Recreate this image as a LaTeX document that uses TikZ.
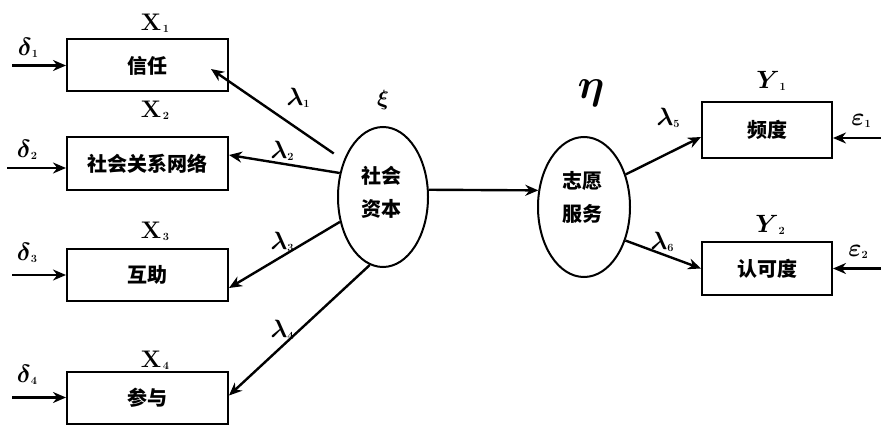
\RequirePackage{fix-cm}
\documentclass[tikz,border=0pt]{standalone}
\usepackage{fontspec}
\usepackage{bm}
\newfontfamily\cjk{Noto Sans CJK SC}
\usetikzlibrary{arrows.meta,shapes.geometric}
\newcommand{\lsub}[1]{\raisebox{-2pt}{\fontsize{11}{11}\selectfont\bfseries #1}}
\newcommand{\gsym}[2]{{\fontsize{25}{25}\selectfont$\bm{#1}$}\lsub{#2}}
\newcommand{\xsym}[2]{{\fontsize{24}{24}\selectfont\bfseries #1}\,\lsub{#2}}
\begin{document}
\begin{tikzpicture}[x=1pt,y=-1pt,
  box/.style={draw,line width=2pt,minimum width=161pt,minimum height=52pt,inner sep=0pt,font=\cjk\bfseries\fontsize{20}{20}\selectfont},
  ybox/.style={box,minimum width=130pt},
  oval/.style={draw,ellipse,line width=2pt,minimum width=90pt,minimum height=140pt,inner sep=0pt},
  intext/.style={inner sep=0pt,align=center,font=\cjk\bfseries\fontsize{20}{33}\selectfont},
  arr/.style={line width=2.4pt,-{Stealth[length=13pt,width=11pt]}},
  lbl/.style={inner sep=0pt}
]
\useasboundingbox (0,0) rectangle (881,425);

% boxes
\node[box] (x1) at (147.5,65.5) {信任};
\node[box] (x2) at (147.5,163.5) {社会关系网络};
\node[box] (x3) at (147.5,275) {互助};
\node[box] (x4) at (147.5,397.5) {参与};
\node[ybox,minimum height=56pt] (y1) at (767,130) {频度};
\node[ybox,minimum height=53pt] (y2) at (767,268.5) {认可度};

% ellipses
\node[oval] (s) at (383,197) {};
\node[intext] (st) at (381,192) {社会\\资本};
\node[oval,minimum width=92pt] (v) at (584,207) {};
\node[intext] (vt) at (582,197) {志愿\\服务};

% labels
\node[lbl] (lx1) at (155,23) {\xsym{X}{1}};
\node[lbl] (lx2) at (155,110) {\xsym{X}{2}};
\node[lbl] (lx3) at (155,231) {\xsym{X}{3}};
\node[lbl] (lx4) at (155,360) {\xsym{X}{4}};
\node[lbl] (ld1) at (28,48) {\gsym{\delta}{1}};
\node[lbl] (ld2) at (27,150) {\gsym{\delta}{2}};
\node[lbl] (ld3) at (27,253) {\gsym{\delta}{3}};
\node[lbl] (ld4) at (27,375) {\gsym{\delta}{4}};
\node[lbl] (ll1) at (298,98) {\gsym{\lambda}{1}};
\node[lbl] (ll2) at (282,151) {\gsym{\lambda}{2}};
\node[lbl] (ll3) at (282,242) {\gsym{\lambda}{3}};
\node[lbl] (ll4) at (282,330) {\gsym{\lambda}{4}};
\node[lbl] (ll5) at (668,118) {\gsym{\lambda}{5}};
\node[lbl] (ll6) at (662,242) {\gsym{\lambda}{6}};
\node[lbl] (lxi) at (383,100) {\fontsize{22}{22}\selectfont$\bm{\xi}$};
\node[lbl] (leta) at (591,93) {\fontsize{42}{42}\selectfont$\bm{\eta}$};
\node[lbl] (ly1) at (771,81) {\gsym{Y}{1}};
\node[lbl] (ly2) at (770,225) {\gsym{Y}{2}};
\node[lbl] (le1) at (861,121) {\gsym{\varepsilon}{1}};
\node[lbl] (le2) at (858,252) {\gsym{\varepsilon}{2}};

% error arrows
\coordinate (d1) at (12,65.5);
\coordinate (d2) at (7,168);
\coordinate (d3) at (12,275);
\coordinate (d4) at (12,397.5);
\draw[arr] (d1) -- (x1.west);
\draw[arr] (d2) -- (x2.west |- d2);
\draw[arr] (d3) -- (x3.west);
\draw[arr] (d4) -- (x4.west);
\coordinate (e1) at (881,138);
\coordinate (e2) at (881,268.5);
\draw[arr] (e1) -- (y1.east |- e1);
\draw[arr] (e2) -- (y2.east);

% loadings
\coordinate (l1end) at (211,69);
\draw[arr,shorten <=12pt] (s.137) -- (l1end);
\draw[arr] (s.151) -- ([yshift=8.5pt]x2.east);
\draw[arr] (s.210) -- ([yshift=-13pt]x3.east);
\draw[arr] (s.259) -- ([yshift=2pt]x4.east);
\draw[arr] (s.9) -- (v.160);
\draw[arr] (v.38) -- ([yshift=-7pt]y1.west);
\draw[arr] (v.321.5) -- (y2.west);
\end{tikzpicture}
\end{document}
